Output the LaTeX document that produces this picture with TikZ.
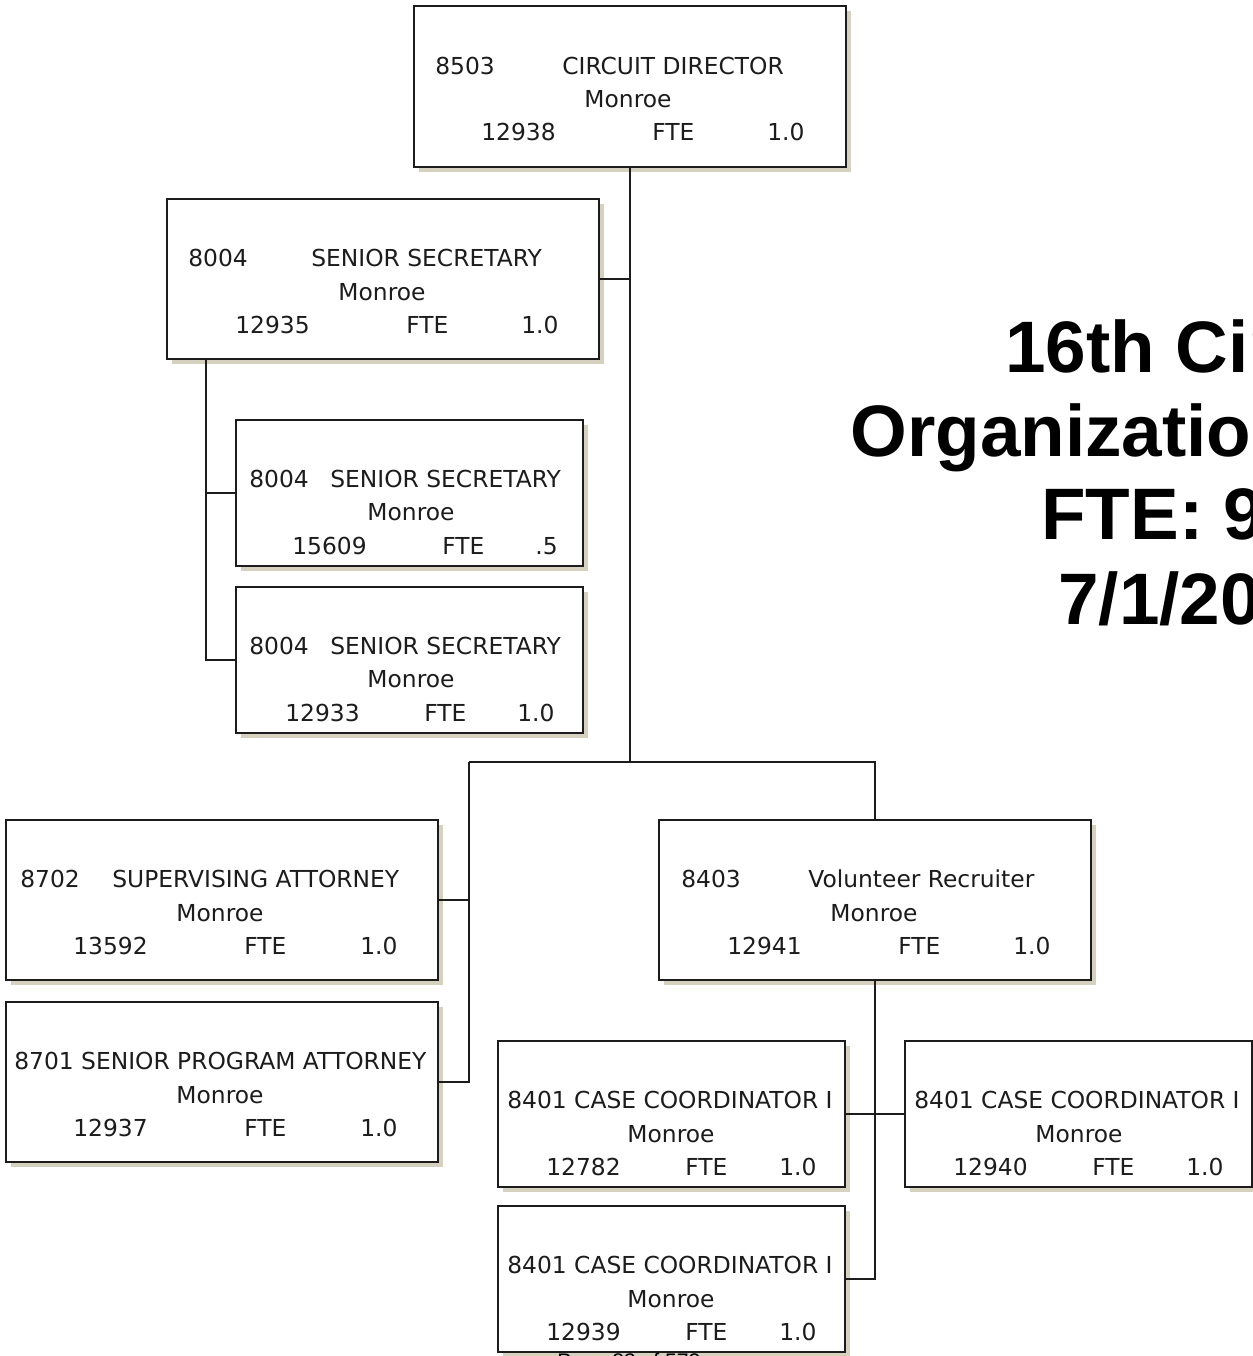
\documentclass[tikz,border=0pt]{standalone}
\usepackage{fontspec}
\setmainfont{DejaVu Sans}
\newfontfamily\titlefont{Liberation Sans}
\usetikzlibrary{shadows}
\definecolor{inkc}{HTML}{1C1C1C}
\definecolor{shadowc}{HTML}{D6D1BE}
\tikzset{
  posbox/.style={draw=inkc, line width=0.9pt, fill=white, inner sep=0pt,
    drop shadow={shadow xshift=0.1cm, shadow yshift=-0.1cm, fill=shadowc, opacity=1}},
  widebox/.style={posbox, minimum width=8.64cm, minimum height=3.2cm},
  narrowbox/.style={posbox, minimum width=6.94cm, minimum height=2.92cm},
  txt/.style={anchor=base west, inner sep=0pt, text=inkc, font=\fontsize{13.3}{16}\selectfont},
  ctxt/.style={txt, anchor=base},
  link/.style={draw=inkc, line width=0.9pt},
  bigtitle/.style={anchor=base west, inner sep=0pt, text=black,
    font=\titlefont\bfseries\fontsize{41.5}{48}\selectfont},
  pagefoot/.style={anchor=base west, inner sep=0pt, text=black,
    font=\titlefont\fontsize{12}{14}\selectfont}
}
\begin{document}
\begin{tikzpicture}[x=0.02cm, y=-0.02cm]
\useasboundingbox[fill=white] (0,0) rectangle (1253,1356);

% position boxes
\node[widebox, minimum height=3.22cm] (cd)  at (630,86.5) {};
\node[widebox]   (ss1) at (383,279) {};
\node[narrowbox] (ss2) at (409.5,493) {};
\node[narrowbox] (ss3) at (409.5,660) {};
\node[widebox]   (sa)  at (222,900) {};
\node[widebox]   (spa) at (222,1082) {};
\node[widebox]   (vr)  at (875,900) {};
\node[narrowbox] (cc1) at (671.5,1114) {};
\node[narrowbox] (cc2) at (1078.5,1114) {};
\node[narrowbox] (cc3) at (671.5,1279) {};

% reporting lines
\coordinate (trunk) at (cd.south |- 0,762);
\coordinate (busL) at (469,762);
\coordinate (busR) at (vr.north |- trunk);
\draw[link] (cd.south) -- (trunk);
\draw[link] (ss1.east) -- (ss1.east -| cd.south);
\coordinate (ssdrop) at ([xshift=0.8cm]ss1.south west);
\draw[link] (ssdrop) |- (ss2.west);
\draw[link] (ssdrop) |- (ss3.west);
\draw[link] (busL) -- (busR) -- (vr.north);
\draw[link] (busL) |- (sa.east);
\draw[link] (busL) |- (spa.east);
\draw[link] (vr.south) |- (cc3.east);
\draw[link] (cc1.east) -- (cc2.west);

% CIRCUIT DIRECTOR
\node[txt] (cd-a) at (435,74) {8503};
\node[txt] (cd-b) at (562,74) {CIRCUIT DIRECTOR};
\node[ctxt] (cd-c) at (628,107) {Monroe};
\node[txt] (cd-d) at (481,140) {12938};
\node[txt] (cd-e) at (652,140) {FTE};
\node[txt] (cd-f) at (767,140) {1.0};

% SENIOR SECRETARY 12935
\node[txt] (s1-a) at (188,266) {8004};
\node[txt] (s1-b) at (311,266) {SENIOR SECRETARY};
\node[ctxt] (s1-c) at (382,300) {Monroe};
\node[txt] (s1-d) at (235,333) {12935};
\node[txt] (s1-e) at (406,333) {FTE};
\node[txt] (s1-f) at (521,333) {1.0};

% SENIOR SECRETARY 15609
\node[txt] (s2-a) at (249,487) {8004};
\node[txt] (s2-b) at (330,487) {SENIOR SECRETARY};
\node[ctxt] (s2-c) at (411,520) {Monroe};
\node[txt] (s2-d) at (292,554) {15609};
\node[txt] (s2-e) at (442,554) {FTE};
\node[txt] (s2-f) at (535,554) {.5};

% SENIOR SECRETARY 12933
\node[txt] (s3-a) at (249,654) {8004};
\node[txt] (s3-b) at (330,654) {SENIOR SECRETARY};
\node[ctxt] (s3-c) at (411,687) {Monroe};
\node[txt] (s3-d) at (285,721) {12933};
\node[txt] (s3-e) at (424,721) {FTE};
\node[txt] (s3-f) at (517,721) {1.0};

% SUPERVISING ATTORNEY
\node[txt] (sa-a) at (20,887) {8702};
\node[txt] (sa-b) at (112,887) {SUPERVISING ATTORNEY};
\node[ctxt] (sa-c) at (220,921) {Monroe};
\node[txt] (sa-d) at (73,954) {13592};
\node[txt] (sa-e) at (244,954) {FTE};
\node[txt] (sa-f) at (360,954) {1.0};

% SENIOR PROGRAM ATTORNEY
\node[txt] (pa-a) at (14,1069) {8701 SENIOR PROGRAM ATTORNEY};
\node[ctxt] (pa-c) at (220,1103) {Monroe};
\node[txt] (pa-d) at (73,1136) {12937};
\node[txt] (pa-e) at (244,1136) {FTE};
\node[txt] (pa-f) at (360,1136) {1.0};

% Volunteer Recruiter
\node[txt] (vr-a) at (681,887) {8403};
\node[txt] (vr-b) at (808,887) {Volunteer Recruiter};
\node[ctxt] (vr-c) at (874,921) {Monroe};
\node[txt] (vr-d) at (727,954) {12941};
\node[txt] (vr-e) at (898,954) {FTE};
\node[txt] (vr-f) at (1013,954) {1.0};

% CASE COORDINATOR I 12782
\node[txt] (c1-a) at (507,1108) {8401 CASE COORDINATOR I};
\node[ctxt] (c1-c) at (671,1142) {Monroe};
\node[txt] (c1-d) at (546,1175) {12782};
\node[txt] (c1-e) at (685,1175) {FTE};
\node[txt] (c1-f) at (779,1175) {1.0};

% CASE COORDINATOR I 12940
\node[txt] (c2-a) at (914,1108) {8401 CASE COORDINATOR I};
\node[ctxt] (c2-c) at (1079,1142) {Monroe};
\node[txt] (c2-d) at (953,1175) {12940};
\node[txt] (c2-e) at (1092,1175) {FTE};
\node[txt] (c2-f) at (1186,1175) {1.0};

% CASE COORDINATOR I 12939
\node[txt] (c3-a) at (507,1273) {8401 CASE COORDINATOR I};
\node[ctxt] (c3-c) at (671,1307) {Monroe};
\node[txt] (c3-d) at (546,1340) {12939};
\node[txt] (c3-e) at (685,1340) {FTE};
\node[txt] (c3-f) at (779,1340) {1.0};

% chart heading and page footer, cut by the page edge
\begin{scope}
\clip (0,0) rectangle (1253,1356);
\node[bigtitle] (t1) at (1005,372) {16th Cir};
\node[bigtitle] (t2) at (850,456) {Organization};
\node[bigtitle] (t3) at (1041,539) {FTE: 9};
\node[bigtitle] (t4) at (1058,624) {7/1/20};
\node[pagefoot] (pg) at (557,1368) {Page 83 of 572};
\end{scope}
\end{tikzpicture}
\end{document}
